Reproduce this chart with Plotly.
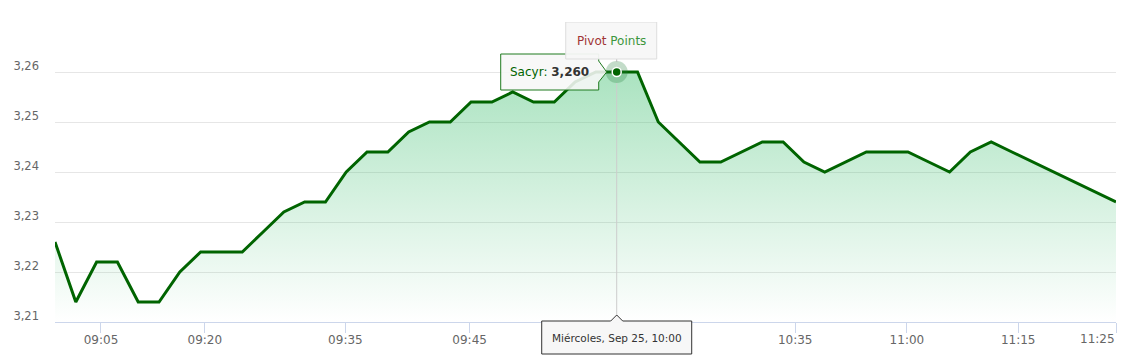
import plotly.graph_objects as go

# ---------------- data ----------------
series_name = "Sacyr"
values = [3.226, 3.214, 3.222, 3.222, 3.214, 3.214, 3.220, 3.224, 3.224, 3.224,
          3.228, 3.232, 3.234, 3.234, 3.240, 3.244, 3.244, 3.248, 3.250, 3.250,
          3.254, 3.254, 3.256, 3.254, 3.254, 3.258, 3.260, 3.260, 3.260, 3.250,
          3.246, 3.242, 3.242, 3.244, 3.246, 3.246, 3.242, 3.240, 3.242, 3.244,
          3.244, 3.244, 3.242, 3.240, 3.244, 3.246, 3.244, 3.242, 3.240, 3.238,
          3.236, 3.234]
point_index = list(range(len(values)))

# ordinal (gap-less) time axis: tick labels and where they fall between points
tick_labels = ["09:05", "09:20", "09:35", "09:45", "10:35", "11:00", "11:15", "11:25"]
tick_index = [2.21, 7.2, 13.96, 19.93, 35.58, 40.95, 46.3, 51.0]

y_ticks = [3.21, 3.22, 3.23, 3.24, 3.25, 3.26, 3.27]
y_tick_labels = ["3,21", "3,22", "3,23", "3,24", "3,25", "3,26", ""]

hover_index = 27
hover_date = "Miércoles, Sep 25, 10:00"
pivot_words = ["Pivot", "Points"]

FONT = "DejaVu Sans"
LINE = "#006400"

hx = point_index[hover_index]
hy = values[hover_index]
hy_text = f"{hy:.3f}".replace(".", ",")

# last tick label sits right-aligned at the plot edge (drawn as annotation)
axis_ticktext = tick_labels[:-1] + [""]

fig = go.Figure()

fig.add_trace(go.Scatter(
    x=point_index, y=values, mode="lines",
    line=dict(color=LINE, width=3),
    fill="tozeroy",
    fillgradient=dict(type="vertical",
                      colorscale=[[0, "rgba(60,190,110,0.0)"], [1, "rgba(60,190,110,0.52)"]],
                      start=y_ticks[0], stop=y_ticks[-1]),
    hoverinfo="skip", showlegend=False,
))

# hover halo + marker
fig.add_trace(go.Scatter(
    x=[hx], y=[hy], mode="markers",
    marker=dict(size=22, color="rgba(40,130,60,0.28)", line=dict(width=0)),
    hoverinfo="skip", showlegend=False,
))
fig.add_trace(go.Scatter(
    x=[hx], y=[hy], mode="markers",
    marker=dict(size=9, color=LINE, line=dict(width=1.5, color="white")),
    hoverinfo="skip", showlegend=False,
))

shapes = []
# crosshair
shapes.append(dict(type="path", xref="x", yref="y", xsizemode="pixel", ysizemode="pixel",
                   xanchor=hx, yanchor=hy, path="M 0,-11 L 0,-249",
                   line=dict(color="#cccccc", width=1), layer="above"))
shapes.append(dict(type="path", xref="x", yref="y", xsizemode="pixel", ysizemode="pixel",
                   xanchor=hx, yanchor=hy, path="M 0,13 L 0,10",
                   line=dict(color="#bbbbbb", width=1), layer="above"))
# series tooltip callout (box + notch)
shapes.append(dict(type="path", xref="x", yref="y", xsizemode="pixel", ysizemode="pixel",
                   xanchor=hx, yanchor=hy,
                   path="M -116,18 L -18,18 L -18,11 L -10,0 L -18,-10 L -18,-18 L -116,-18 Z",
                   fillcolor="rgba(247,247,247,0.88)", line=dict(color="#1f7a1f", width=1),
                   layer="above"))
# pivot points box
shapes.append(dict(type="path", xref="x", yref="y", xsizemode="pixel", ysizemode="pixel",
                   xanchor=hx, yanchor=hy,
                   path="M -51,13 L 40,13 L 40,50 L -51,50 Z",
                   fillcolor="rgba(247,247,247,0.95)", line=dict(color="#dddddd", width=1),
                   layer="above"))
# date tooltip below axis
shapes.append(dict(type="path", xref="x", yref="paper", xsizemode="pixel", ysizemode="pixel",
                   xanchor=hx, yanchor=0,
                   path="M -75,1 L -6,1 L 0,7 L 6,1 L 75,1 L 75,-32 L -75,-32 Z",
                   fillcolor="rgba(247,247,247,0.97)", line=dict(color="#333333", width=1),
                   layer="above"))

annotations = [
    dict(x=hx, y=hy, xref="x", yref="y", xanchor="center", yanchor="middle",
         xshift=-67, showarrow=False,
         text=f"<span style='color:{LINE}'>{series_name}: </span><b>{hy_text}</b>",
         font=dict(family=FONT, size=12, color="#333333")),
    dict(x=hx, y=hy, xref="x", yref="y", xanchor="center", yanchor="middle",
         xshift=-5.5, yshift=31.5, showarrow=False,
         text=f"<span style='color:#a03434'>{pivot_words[0]}</span> "
              f"<span style='color:#3c963c'>{pivot_words[1]}</span>",
         font=dict(family=FONT, size=12)),
    dict(x=hx, y=0, xref="x", yref="paper", xanchor="center", yanchor="middle",
         yshift=-15.5, showarrow=False, text=hover_date,
         font=dict(family=FONT, size=10.5, color="#333333")),
    dict(x=tick_index[-1], y=0, xref="x", yref="paper", xanchor="right", yanchor="middle",
         yshift=-17, xshift=1, showarrow=False, text=tick_labels[-1],
         font=dict(family=FONT, size=12, color="#666666")),
]

fig.update_layout(
    width=1131, height=361,
    margin=dict(l=55, r=15, t=22, b=39),
    paper_bgcolor="white", plot_bgcolor="white",
    font=dict(family=FONT, color="#666666"),
    shapes=shapes, annotations=annotations,
    xaxis=dict(range=[0, len(values) - 1], showgrid=False, zeroline=False,
               tickvals=tick_index, ticktext=axis_ticktext,
               ticks="outside", ticklen=10, tickcolor="#ccd6eb", tickwidth=1,
               showline=True, linecolor="#ccd6eb", linewidth=1,
               ticklabelstandoff=-3,
               tickfont=dict(family=FONT, size=12, color="#666666")),
    yaxis=dict(range=[y_ticks[0], y_ticks[-1]], tickvals=y_ticks, ticktext=y_tick_labels,
               showgrid=True, gridcolor="#e6e6e6", gridwidth=1, zeroline=False,
               showline=False, ticks="", ticklabelshift=-6, ticklabelstandoff=15,
               tickfont=dict(family=FONT, size=11.5, color="#666666")),
)

fig.write_html("out.html")
